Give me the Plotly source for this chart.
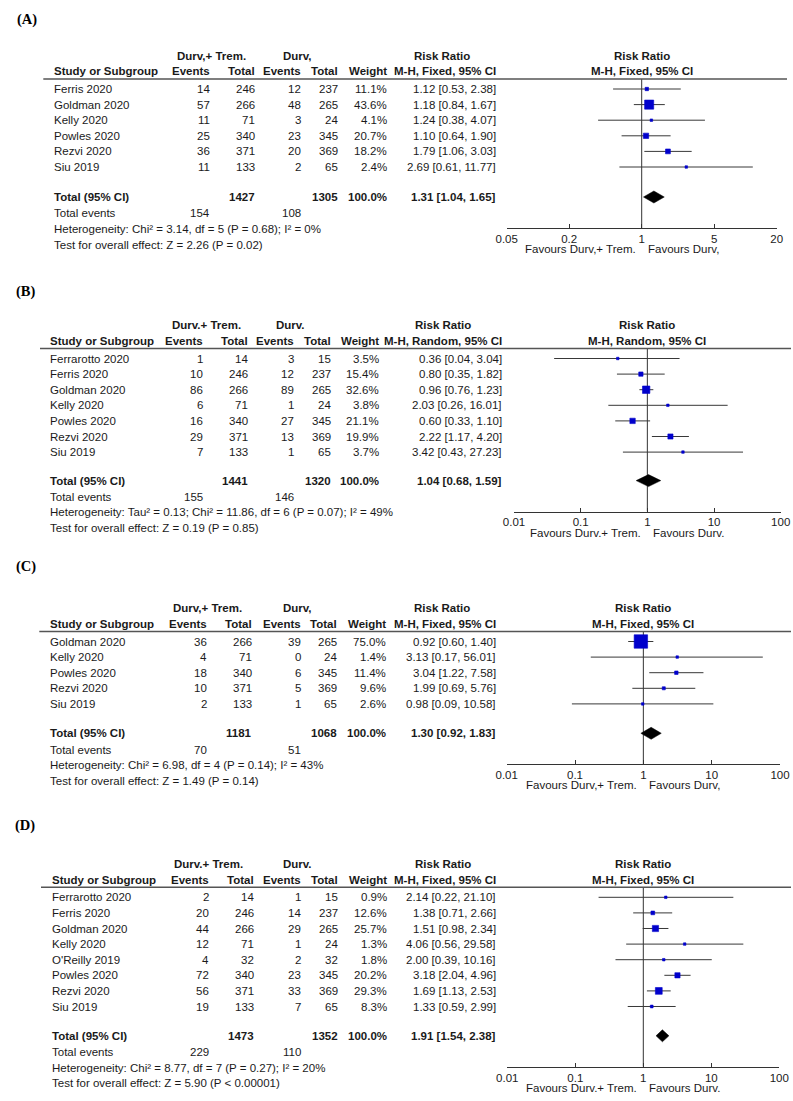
import math
import plotly.graph_objects as go

W, H = 793, 1101
FONT = "Liberation Sans, Arial, sans-serif"
SERIF = "Liberation Serif, Times New Roman, serif"
TXT = "#1a1a1a"
FS = 11.5

# ---------------- Panel A ----------------
a_study = ["Ferris 2020", "Goldman 2020", "Kelly 2020", "Powles 2020", "Rezvi 2020", "Siu 2019"]
a_ev1 = [14, 57, 11, 25, 36, 11]
a_tot1 = [246, 266, 71, 340, 371, 133]
a_ev2 = [12, 48, 3, 23, 20, 2]
a_tot2 = [237, 265, 24, 345, 369, 65]
a_weight = [11.1, 43.6, 4.1, 20.7, 18.2, 2.4]
a_rr = [1.12, 1.18, 1.24, 1.10, 1.79, 2.69]
a_lo = [0.53, 0.84, 0.38, 0.64, 1.06, 0.61]
a_hi = [2.38, 1.67, 4.07, 1.90, 3.03, 11.77]
a_total_n = [1427, 1305]
a_total_w = 100.0
a_total_rr = [1.31, 1.04, 1.65]
a_total_events = [154, 108]
a_het = "Heterogeneity: Chi² = 3.14, df = 5 (P = 0.68); I² = 0%"
a_test = "Test for overall effect: Z = 2.26 (P = 0.02)"
a_groups = ["Durv,+ Trem.", "Durv,"]
a_method = "M-H, Fixed, 95% CI"
a_ticks = [0.05, 0.2, 1, 5, 20]

# ---------------- Panel B ----------------
b_study = ["Ferrarotto 2020", "Ferris 2020", "Goldman 2020", "Kelly 2020", "Powles 2020", "Rezvi 2020", "Siu 2019"]
b_ev1 = [1, 10, 86, 6, 16, 29, 7]
b_tot1 = [14, 246, 266, 71, 340, 371, 133]
b_ev2 = [3, 12, 89, 1, 27, 13, 1]
b_tot2 = [15, 237, 265, 24, 345, 369, 65]
b_weight = [3.5, 15.4, 32.6, 3.8, 21.1, 19.9, 3.7]
b_rr = [0.36, 0.80, 0.96, 2.03, 0.60, 2.22, 3.42]
b_lo = [0.04, 0.35, 0.76, 0.26, 0.33, 1.17, 0.43]
b_hi = [3.04, 1.82, 1.23, 16.01, 1.10, 4.20, 27.23]
b_total_n = [1441, 1320]
b_total_w = 100.0
b_total_rr = [1.04, 0.68, 1.59]
b_total_events = [155, 146]
b_het = "Heterogeneity: Tau² = 0.13; Chi² = 11.86, df = 6 (P = 0.07); I² = 49%"
b_test = "Test for overall effect: Z = 0.19 (P = 0.85)"
b_groups = ["Durv.+ Trem.", "Durv."]
b_method = "M-H, Random, 95% CI"
b_ticks = [0.01, 0.1, 1, 10, 100]

# ---------------- Panel C ----------------
c_study = ["Goldman 2020", "Kelly 2020", "Powles 2020", "Rezvi 2020", "Siu 2019"]
c_ev1 = [36, 4, 18, 10, 2]
c_tot1 = [266, 71, 340, 371, 133]
c_ev2 = [39, 0, 6, 5, 1]
c_tot2 = [265, 24, 345, 369, 65]
c_weight = [75.0, 1.4, 11.4, 9.6, 2.6]
c_rr = [0.92, 3.13, 3.04, 1.99, 0.98]
c_lo = [0.60, 0.17, 1.22, 0.69, 0.09]
c_hi = [1.40, 56.01, 7.58, 5.76, 10.58]
c_total_n = [1181, 1068]
c_total_w = 100.0
c_total_rr = [1.30, 0.92, 1.83]
c_total_events = [70, 51]
c_het = "Heterogeneity: Chi² = 6.98, df = 4 (P = 0.14); I² = 43%"
c_test = "Test for overall effect: Z = 1.49 (P = 0.14)"
c_groups = ["Durv,+ Trem.", "Durv,"]
c_method = "M-H, Fixed, 95% CI"
c_ticks = [0.01, 0.1, 1, 10, 100]

# ---------------- Panel D ----------------
d_study = ["Ferrarotto 2020", "Ferris 2020", "Goldman 2020", "Kelly 2020", "O'Reilly 2019",
           "Powles 2020", "Rezvi 2020", "Siu 2019"]
d_ev1 = [2, 20, 44, 12, 4, 72, 56, 19]
d_tot1 = [14, 246, 266, 71, 32, 340, 371, 133]
d_ev2 = [1, 14, 29, 1, 2, 23, 33, 7]
d_tot2 = [15, 237, 265, 24, 32, 345, 369, 65]
d_weight = [0.9, 12.6, 25.7, 1.3, 1.8, 20.2, 29.3, 8.3]
d_rr = [2.14, 1.38, 1.51, 4.06, 2.00, 3.18, 1.69, 1.33]
d_lo = [0.22, 0.71, 0.98, 0.56, 0.39, 2.04, 1.13, 0.59]
d_hi = [21.10, 2.66, 2.34, 29.58, 10.16, 4.96, 2.53, 2.99]
d_total_n = [1473, 1352]
d_total_w = 100.0
d_total_rr = [1.91, 1.54, 2.38]
d_total_events = [229, 110]
d_het = "Heterogeneity: Chi² = 8.77, df = 7 (P = 0.27); I² = 20%"
d_test = "Test for overall effect: Z = 5.90 (P < 0.00001)"
d_groups = ["Durv.+ Trem.", "Durv."]
d_method = "M-H, Fixed, 95% CI"
d_ticks = [0.01, 0.1, 1, 10, 100]

panels = [
    dict(label="(A)", study=a_study, ev1=a_ev1, tot1=a_tot1, ev2=a_ev2, tot2=a_tot2, w=a_weight,
         rr=a_rr, lo=a_lo, hi=a_hi, tn=a_total_n, tw=a_total_w, trr=a_total_rr, te=a_total_events,
         het=a_het, test=a_test, groups=a_groups, method=a_method, ticks=a_ticks),
    dict(label="(B)", study=b_study, ev1=b_ev1, tot1=b_tot1, ev2=b_ev2, tot2=b_tot2, w=b_weight,
         rr=b_rr, lo=b_lo, hi=b_hi, tn=b_total_n, tw=b_total_w, trr=b_total_rr, te=b_total_events,
         het=b_het, test=b_test, groups=b_groups, method=b_method, ticks=b_ticks),
    dict(label="(C)", study=c_study, ev1=c_ev1, tot1=c_tot1, ev2=c_ev2, tot2=c_tot2, w=c_weight,
         rr=c_rr, lo=c_lo, hi=c_hi, tn=c_total_n, tw=c_total_w, trr=c_total_rr, te=c_total_events,
         het=c_het, test=c_test, groups=c_groups, method=c_method, ticks=c_ticks),
    dict(label="(D)", study=d_study, ev1=d_ev1, tot1=d_tot1, ev2=d_ev2, tot2=d_tot2, w=d_weight,
         rr=d_rr, lo=d_lo, hi=d_hi, tn=d_total_n, tw=d_total_w, trr=d_total_rr, te=d_total_events,
         het=d_het, test=d_test, groups=d_groups, method=d_method, ticks=d_ticks),
]

# layout geometry (pixels)
geoms = [
    dict(line=79, gap=30, x0=506.7, x1=776.7, lab_y=19, lab_x=16, study=53, ev1=211, tot1=256, ev2=302,
         tot2=339, w=388, ci=497, g1=211, g2=297, rrc=442, lx0=43.3, lx1=787),
    dict(line=348.5, gap=28.5, x0=514, x1=780.7, lab_y=291.7, lab_x=15, study=49.3, ev1=204, tot1=249.3,
         ev2=295, tot2=332, w=380, ci=503, g1=206.7, g2=290, rrc=442.5, lx0=40, lx1=791),
    dict(line=631.5, gap=29.4, x0=506.7, x1=780, lab_y=566.7, lab_x=15, study=49.3, ev1=208.3, tot1=253.3,
         ev2=301.7, tot2=338.3, w=386.7, ci=496.7, g1=207.5, g2=297, rrc=441.7, lx0=39.3, lx1=791),
    dict(line=887.3, gap=29.3, x0=507.3, x1=779.3, lab_y=825.7, lab_x=14, study=51, ev1=210, tot1=255,
         ev2=301.7, tot2=339.3, w=387.7, ci=496.7, g1=208.7, g2=297.5, rrc=442.5, lx0=41, lx1=791),
]

SP = 15.6


def fx(p):
    return p / W


def fy(p):
    return 1 - p / H


fig = go.Figure()
annotations = []
shapes = []
layout_axes = {}


def txt(x, y, s, anchor="right", bold=False, size=FS, family=FONT, color=TXT):
    annotations.append(dict(
        x=fx(x), y=fy(y), xref="paper", yref="paper", text=(f"<b>{s}</b>" if bold else s),
        showarrow=False, xanchor=anchor, yanchor="middle",
        font=dict(family=family, size=size, color=color), borderpad=0))


for k, (P, G) in enumerate(zip(panels, geoms)):
    n = len(P["study"])
    L = G["line"]
    row0 = L + 10
    rows_px = [row0 + SP * i for i in range(n)]
    total_px = rows_px[-1] + G["gap"]
    axis_px = total_px + 31
    total_idx = (n - 1) + G["gap"] / SP
    y_top = (L - row0) / SP
    y_bot = (axis_px - row0) / SP

    xn = "x" if k == 0 else f"x{k + 1}"
    yn = "y" if k == 0 else f"y{k + 1}"
    xk = "xaxis" if k == 0 else f"xaxis{k + 1}"
    yk = "yaxis" if k == 0 else f"yaxis{k + 1}"

    ticks = P["ticks"]
    layout_axes[xk] = dict(
        type="log", range=[math.log10(ticks[0]), math.log10(ticks[-1])],
        domain=[fx(G["x0"]), fx(G["x1"])], anchor=yn, automargin=False,
        showline=True, linecolor="#333333", linewidth=1, mirror=False,
        ticks="inside", ticklen=4, tickwidth=1, tickcolor="#333333",
        tickvals=ticks, ticktext=[f"{t:g}" for t in ticks],
        tickfont=dict(family=FONT, size=FS, color=TXT),
        showgrid=False, zeroline=False, fixedrange=True)
    layout_axes[yk] = dict(
        domain=[fy(axis_px), fy(L)], range=[y_bot, y_top], anchor=xn, automargin=False,
        visible=False, showgrid=False, zeroline=False, fixedrange=True)

    # vertical line of no effect
    fig.add_trace(go.Scatter(x=[1, 1], y=[y_top, y_bot], xaxis=xn, yaxis=yn, mode="lines",
                             line=dict(color="#333333", width=1), hoverinfo="skip",
                             showlegend=False, cliponaxis=False))
    # confidence intervals
    cx, cy = [], []
    for i in range(n):
        cx += [P["lo"][i], P["hi"][i], None]
        cy += [i, i, None]
    fig.add_trace(go.Scatter(x=cx, y=cy, xaxis=xn, yaxis=yn, mode="lines",
                             line=dict(color="#383838", width=1), hoverinfo="skip",
                             showlegend=False))
    # weighted squares
    sizes = [max(2.5, 0.6 * w ** 0.72) for w in P["w"]]
    fig.add_trace(go.Scatter(x=P["rr"], y=list(range(n)), xaxis=xn, yaxis=yn, mode="markers",
                             marker=dict(symbol="square", size=sizes, color="#0000CC",
                                         opacity=1, line=dict(width=0.6, color="#0000CC")),
                             hoverinfo="skip", showlegend=False))
    # diamond
    est, lo, hi = P["trr"]
    h = 6.0 / SP
    fig.add_trace(go.Scatter(x=[lo, est, hi, est, lo],
                             y=[total_idx, total_idx - h, total_idx, total_idx + h, total_idx],
                             xaxis=xn, yaxis=yn, mode="lines", fill="toself",
                             fillcolor="#000000", line=dict(color="#000000", width=0.5),
                             hoverinfo="skip", showlegend=False))

    # panel label
    txt(G["lab_x"], G["lab_y"], P["label"], anchor="left", bold=True, size=14.5, family=SERIF,
        color="#000000")

    # headers
    h1 = L - 23.3
    h2 = L - 7.8
    txt(G["g1"], h1, P["groups"][0], anchor="center", bold=True)
    txt(G["g2"], h1, P["groups"][1], anchor="center", bold=True)
    txt(G["rrc"], h1, "Risk Ratio", anchor="center", bold=True)
    txt(G["study"], h2, "Study or Subgroup", anchor="left", bold=True)
    txt(G["ev1"], h2, "Events", bold=True)
    txt(G["tot1"], h2, "Total", bold=True)
    txt(G["ev2"], h2, "Events", bold=True)
    txt(G["tot2"], h2, "Total", bold=True)
    txt(G["w"], h2, "Weight", bold=True)
    txt(G["ci"], h2, P["method"], bold=True)
    for yy, s in [(h1, "Risk Ratio"), (h2, P["method"])]:
        annotations.append(dict(x=0.5, y=fy(yy), xref=f"{xn} domain", yref="paper",
                                text=f"<b>{s}</b>", showarrow=False, xanchor="center",
                                yanchor="middle", font=dict(family=FONT, size=FS, color=TXT),
                                borderpad=0))
    shapes.append(dict(type="line", xref="paper", yref="paper", x0=fx(G["lx0"]), x1=fx(G["lx1"]),
                       y0=fy(L), y1=fy(L), line=dict(color="#555555", width=1.5)))

    # study rows
    for i in range(n):
        y = rows_px[i]
        txt(G["study"], y, P["study"][i], anchor="left")
        txt(G["ev1"], y, str(P["ev1"][i]))
        txt(G["tot1"], y, str(P["tot1"][i]))
        txt(G["ev2"], y, str(P["ev2"][i]))
        txt(G["tot2"], y, str(P["tot2"][i]))
        txt(G["w"], y, f"{P['w'][i]:.1f}%")
        txt(G["ci"], y, f"{P['rr'][i]:.2f} [{P['lo'][i]:.2f}, {P['hi'][i]:.2f}]")

    # total row
    txt(G["study"], total_px, "Total (95% CI)", anchor="left", bold=True)
    txt(G["tot1"], total_px, str(P["tn"][0]), bold=True)
    txt(G["tot2"], total_px, str(P["tn"][1]), bold=True)
    txt(G["w"], total_px, f"{P['tw']:.1f}%", bold=True)
    txt(G["ci"], total_px, f"{est:.2f} [{lo:.2f}, {hi:.2f}]", bold=True)
    te_y = total_px + 16.3
    txt(G["study"], te_y, "Total events", anchor="left")
    txt(G["ev1"], te_y, str(P["te"][0]))
    txt(G["ev2"], te_y, str(P["te"][1]))
    txt(G["study"], te_y + SP, P["het"], anchor="left")
    txt(G["study"], te_y + 2 * SP, P["test"], anchor="left")

    # favours labels
    g1 = P["groups"][0]
    g2 = P["groups"][1]
    fav_y = axis_px + 21
    annotations.append(dict(x=0, y=fy(fav_y), xref=xn, yref="paper", text=f"Favours {g1}",
                            showarrow=False, xanchor="right", yanchor="middle", xshift=-5,
                            font=dict(family=FONT, size=FS, color=TXT), borderpad=0))
    annotations.append(dict(x=0, y=fy(fav_y), xref=xn, yref="paper", text=f"Favours {g2}",
                            showarrow=False, xanchor="left", yanchor="middle", xshift=5,
                            font=dict(family=FONT, size=FS, color=TXT), borderpad=0))

fig.update_layout(
    width=W, height=H, margin=dict(l=0, r=0, t=0, b=0, pad=0, autoexpand=False),
    paper_bgcolor="white", plot_bgcolor="white", showlegend=False,
    annotations=annotations, shapes=shapes, **layout_axes)

fig.write_html("out.html", config={"displayModeBar": False},
               post_script="document.body.style.margin='0px';document.body.style.overflow='hidden';")
